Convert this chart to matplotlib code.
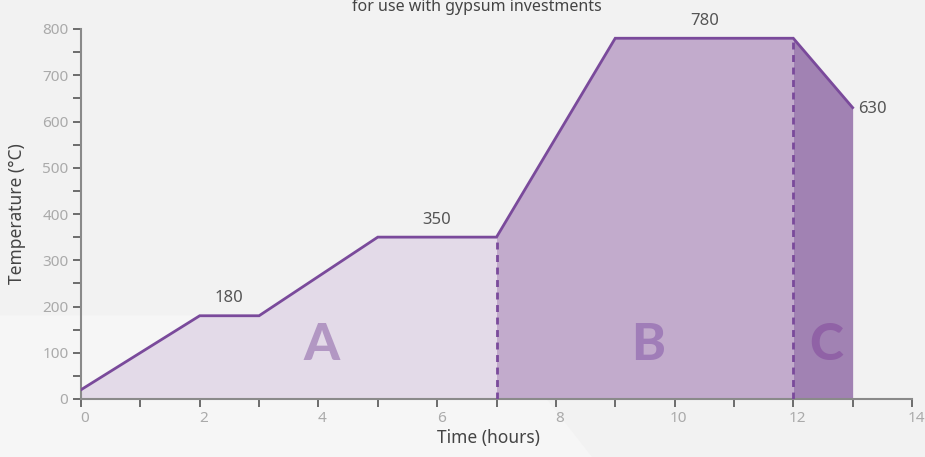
import matplotlib
matplotlib.use("Agg")
import matplotlib.pyplot as plt
from matplotlib.patches import Polygon
import matplotlib.transforms as mtrans

time_h = [0, 2, 3, 5, 7, 9, 12, 13]
temp_c = [20, 180, 180, 350, 350, 780, 780, 630]
phase_labels = ["A", "B", "C"]
phase_bounds = [(0, 7), (7, 12), (12, 13)]
phase_text_x = [4.05, 9.55, 12.55]
phase_text_y = 115
annotations = [("180", 2.5, 180), ("350", 6.0, 350), ("780", 10.5, 780)]
end_label = ("630", 13, 630)
x_ticks = [0, 2, 4, 6, 8, 10, 12, 14]
y_ticks = [0, 100, 200, 300, 400, 500, 600, 700, 800]

plt.rcParams['font.family'] = ['Noto Sans', 'DejaVu Sans']

fig = plt.figure(figsize=(9.25, 4.57), dpi=100)
fig.patch.set_facecolor('#f2f2f2')

# background axes with subtle lighter shape
bgax = fig.add_axes([0, 0, 1, 1], zorder=-10)
bgax.set_xlim(0, 1)
bgax.set_ylim(0, 1)
bgax.axis('off')
bgax.add_patch(Polygon([[0, 0], [0, 0.31], [0.52, 0.31], [0.64, 0]], closed=True,
                       facecolor='#f6f6f6', edgecolor='none'))

ax = fig.add_axes([81/925, 1-399/457, (912-81)/925, (399-29)/457])
ax.set_facecolor('none')
ax.set_xlim(0, 14)
ax.set_ylim(0, 800)

fill_colors = ['#e3dae8', '#c2abcc', '#a182b3']
letter_colors = ['#b297c3', '#a07db8', '#9062a6']

def interp(x):
    for i in range(len(time_h) - 1):
        if time_h[i] <= x <= time_h[i+1]:
            x0, x1 = time_h[i], time_h[i+1]
            y0, y1 = temp_c[i], temp_c[i+1]
            return y0 + (y1 - y0) * (x - x0) / (x1 - x0)
    return temp_c[-1]

for (lo, hi), fc in zip(phase_bounds, fill_colors):
    xs = [lo] + [t for t in time_h if lo < t < hi] + [hi]
    ys = [interp(x) for x in xs]
    ax.fill_between(xs, ys, 0, color=fc, lw=0, zorder=1)

line_color = '#7a4a9b'
ax.plot(time_h, temp_c, color=line_color, lw=2, zorder=3, solid_joinstyle='miter')
for lo, hi in phase_bounds[1:]:
    ax.plot([lo, lo], [0, interp(lo)], color=line_color, lw=2, ls=(0, (2.5, 2)), zorder=3)

for lab, x, c in zip(phase_labels, phase_text_x, letter_colors):
    ax.text(x, phase_text_y, lab, ha='center', va='center', fontsize=37,
            fontweight='black', family=['Lato', 'DejaVu Sans'], color=c, zorder=4)

for txt, x, y in annotations:
    ax.text(x, y + 20, txt, ha='center', va='bottom', fontsize=12, color='#555555')
ax.text(end_label[1] + 0.1, end_label[2] - 2, end_label[0], ha='left', va='center',
        fontsize=12, color='#555555')

for s in ['top', 'right']:
    ax.spines[s].set_visible(False)
for s in ['left', 'bottom']:
    ax.spines[s].set_color('#8a8a8a')
    ax.spines[s].set_linewidth(1.5)

ax.set_xticks(x_ticks)
ax.set_xticks(range(0, 15), minor=True)
ax.set_yticks(y_ticks)
ax.set_yticks(range(0, 801, 50), minor=True)
ax.tick_params(axis='both', which='both', color='#555555', width=1.2, labelcolor='#aaaaaa',
               labelsize=11)
ax.tick_params(axis='both', which='major', length=6)
ax.tick_params(axis='both', which='minor', length=6)
ax.tick_params(axis='x', pad=3)
ax.tick_params(axis='y', pad=3)
offset = mtrans.ScaledTranslation(4/100, 0, fig.dpi_scale_trans)
for lbl in ax.get_xticklabels():
    lbl.set_transform(lbl.get_transform() + offset)

ax.set_xlabel('Time (hours)', fontsize=12.5, color='#444444')
ax.set_ylabel('Temperature (°C)', fontsize=12.5, color='#444444')
ax.xaxis.set_label_coords(0.49, -0.082)
ax.yaxis.set_label_coords(-0.066, 0.5)

fig.text(0.516, 1 - 11/457, 'for use with gypsum investments', ha='center', va='baseline',
         fontsize=11.5, color='#444444')

fig.savefig('out.png', dpi=100, facecolor=fig.get_facecolor())
